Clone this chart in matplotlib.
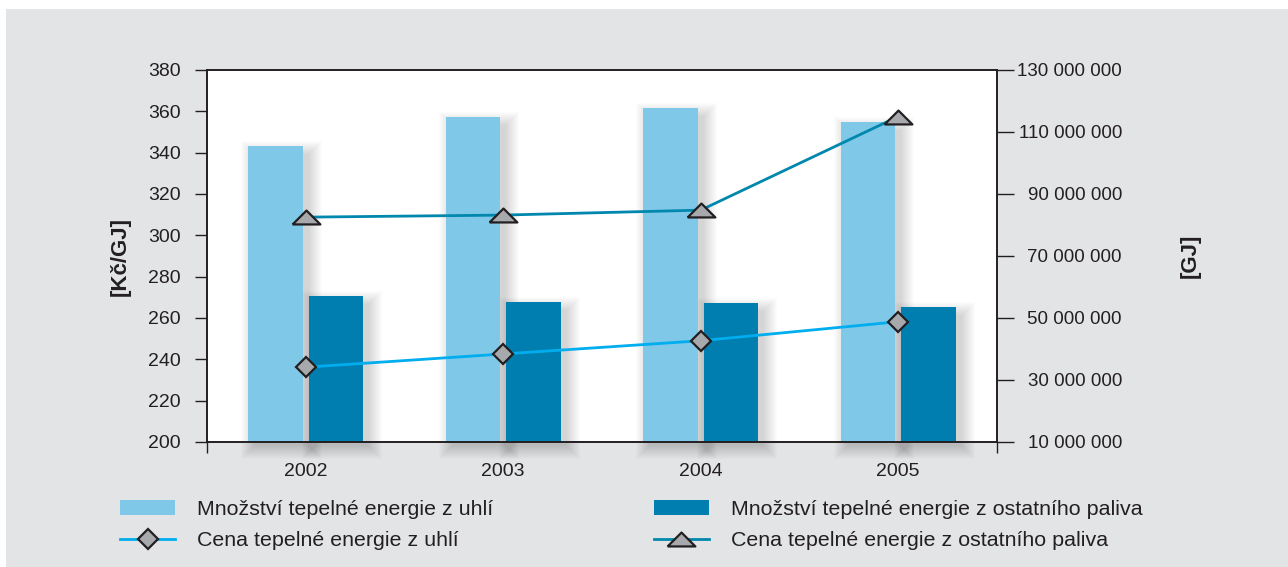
import numpy as np
import matplotlib.pyplot as plt
from matplotlib.patches import Rectangle
from matplotlib.ticker import FuncFormatter

plt.rcParams['font.family'] = ['Liberation Sans', 'DejaVu Sans']

# data
years = ['2002', '2003', '2004', '2005']
mnozstvi_uhli = [105.5e6, 114.8e6, 117.7e6, 113.2e6]      # GJ, right axis
mnozstvi_ostatni = [57.1e6, 55.2e6, 54.8e6, 53.5e6]       # GJ, right axis
cena_uhli = [236.2, 242.6, 249.0, 258.2]                  # Kc/GJ, left axis
cena_ostatni = [308.8, 309.8, 312.2, 357.5]               # Kc/GJ, left axis

labels = ['Množství tepelné energie z uhlí',
          'Cena tepelné energie z uhlí',
          'Množství tepelné energie z ostatního paliva',
          'Cena tepelné energie z ostatního paliva']

c_light = '#7fc8e8'
c_dark = '#007eaf'
c_line1 = '#00aeef'
c_line2 = '#0087ad'
c_mark = '#a7a9ac'
c_edge = '#231f20'
bg = '#e3e4e6'

fig = plt.figure(figsize=(12.88, 5.67), dpi=100)
fig.patch.set_facecolor('white')
fig.patches.append(Rectangle((6/1288, 0), 1, 1 - 9/567, transform=fig.transFigure,
                             facecolor=bg, edgecolor='none', zorder=-10))

ax1 = fig.add_axes([207/1288, 1 - 442/567, 790/1288, 372/567])
ax2 = ax1.twinx()
ax2.set_zorder(1)
ax1.set_zorder(2)
ax1.patch.set_visible(False)
ax2.patch.set_visible(True)
ax2.set_facecolor('white')

x = np.arange(len(years)) + 0.5
w = 0.275
gap = 0.015

# pixel sizes in data units
px_x = 4 / 790
px_y = 120e6 / 372

# soft shadows behind bars
def shadow(ax, xc, h):
    for k in range(14):
        e = 1.0 * k
        x0 = xc - w / 2 + (6 - e) * px_x
        y0 = 10e6 - (4 + e) * px_y
        ax.add_patch(Rectangle((x0, y0), w + 2 * e * px_x, h - y0 + (e - 8) * px_y,
                               facecolor='black', edgecolor='none', alpha=0.01,
                               zorder=0.5, clip_on=False))

for i in range(len(years)):
    shadow(ax2, x[i] - w / 2 - gap, mnozstvi_uhli[i])
    shadow(ax2, x[i] + w / 2 + gap, mnozstvi_ostatni[i])

b1 = ax2.bar(x - w / 2 - gap, np.array(mnozstvi_uhli) - 10e6, w, bottom=10e6,
             color=c_light, zorder=1)
b2 = ax2.bar(x + w / 2 + gap, np.array(mnozstvi_ostatni) - 10e6, w, bottom=10e6,
             color=c_dark, zorder=1)

tri = [(-1, -0.5), (1, -0.5), (0, 0.5), (-1, -0.5)]
l1, = ax1.plot(x, cena_uhli, color=c_line1, lw=2, marker='D', ms=10.5,
               mfc=c_mark, mec=c_edge, mew=1.6, zorder=3)
l2, = ax1.plot(x, cena_ostatni, color=c_line2, lw=2, marker=tri, ms=20,
               mfc=c_mark, mec=c_edge, mew=1.6, zorder=3)

ax1.set_xlim(0, 4)
ax1.set_ylim(200, 380)
ax1.set_yticks(np.arange(200, 381, 20))
ax2.set_ylim(10e6, 130e6)
ax2.set_yticks(np.arange(10e6, 130.1e6, 20e6))
ax2.yaxis.set_major_formatter(FuncFormatter(lambda v, p: '{:,.0f}'.format(v).replace(',', ' ')))

ax1.set_xticks(x)
ax1.set_xticklabels(years)
ax1.set_xticks([0, 4], minor=True)
ax1.tick_params(axis='x', which='major', length=0, pad=15, labelsize=14, colors='#231f20')
ax1.tick_params(axis='x', which='minor', length=8, width=1, color='#231f20')
ax1.tick_params(axis='y', length=9, width=1, pad=10, labelsize=14, colors='#231f20')
ax2.tick_params(axis='y', length=12, width=1, pad=78, labelsize=13.5, colors='#231f20')
for t in ax2.get_yticklabels():
    t.set_horizontalalignment('right')

for a in (ax1, ax2):
    for s in a.spines.values():
        s.set_color('#231f20')
        s.set_linewidth(1.2)

ax1.set_ylabel('[Kč/GJ]', fontsize=16, fontweight='bold', labelpad=12, color='#231f20')
fig.text(1190/1288, 1 - 256/567, '[GJ]', rotation=90, fontsize=16, fontweight='bold',
         ha='center', va='center', color='#231f20')

leg = fig.legend([b1, l1, b2, l2], labels, ncol=2, loc='center left',
                 bbox_to_anchor=(101/1288, 1 - 525/567), frameon=False,
                 fontsize=15.4, handlelength=2.57, handletextpad=1.03,
                 columnspacing=7.5, labelspacing=0.6)
for t in leg.get_texts():
    t.set_color('#231f20')

fig.savefig('out.png', dpi=100, facecolor=fig.get_facecolor())
